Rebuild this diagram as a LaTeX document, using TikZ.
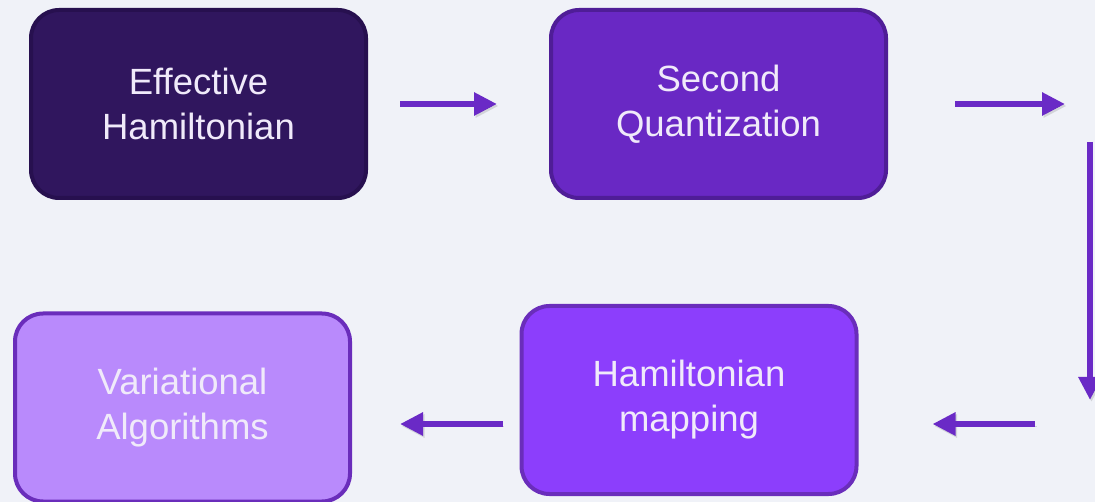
\documentclass[tikz,border=0pt]{standalone}
\usepackage{fontspec}
\setmainfont{Liberation Sans}
\usetikzlibrary{arrows.meta}
\definecolor{bgc}{HTML}{F0F2F8}
\definecolor{cA}{HTML}{30165E}
\definecolor{cAb}{HTML}{27104F}
\definecolor{cB}{HTML}{6928C4}
\definecolor{cBb}{HTML}{4F1D97}
\definecolor{cC}{HTML}{8C3EFC}
\definecolor{cCb}{HTML}{6A2DBB}
\definecolor{cD}{HTML}{B98AFC}
\definecolor{cDb}{HTML}{6A2DBB}
\definecolor{txt}{HTML}{F0EAFA}
\definecolor{arrc}{HTML}{6A2AC6}
\tikzset{
  box/.style={rectangle, rounded corners=28pt, line width=4pt,
    minimum width=335pt, minimum height=188pt, align=center,
    text=txt, font=\fontsize{36.5}{45}\selectfont, inner sep=0pt},
  arr/.style={line width=6pt, draw=arrc, -{Triangle[length=23pt,width=22pt]},
    preaction={draw=black, draw opacity=0.12, transform canvas={shift={(1.5pt,-2pt)}}}}
}
\begin{document}
\begin{tikzpicture}[x=1pt,y=-1pt]
\fill[bgc] (0,0) rectangle (1095,502);
\useasboundingbox (0,0) rectangle (1095,502);
\node[box, fill=cA, draw=cAb] (eff) at (198.5,104) {Effective\\Hamiltonian};
\node[box, fill=cB, draw=cBb] (sec) at (718.5,104) {Second\\Quantization};
\node[box, fill=cC, draw=cCb] (map) at (689,400) {Hamiltonian\\mapping};
\node[box, fill=cD, draw=cDb] (var) at (182.5,407.5) {Variational\\Algorithms};
\coordinate (a2e) at (1065,104);
\coordinate (v1) at (1090,142);
\coordinate (v2) at (1090,400);
\coordinate (h1) at (1035,424);
\draw[arr, shorten <=32pt, shorten >=52pt] (eff.east) -- (sec.west);
\draw[arr, shorten <=67pt] (sec.east) -- (a2e);
\draw[arr] (v1) -- (v2);
\draw[arr, shorten >=74pt] (h1) -- (h1 -| map.east);
\draw[arr, shorten <=17pt, shorten >=48pt] (map.west |- h1) -- (var.east |- h1);
\end{tikzpicture}
\end{document}
